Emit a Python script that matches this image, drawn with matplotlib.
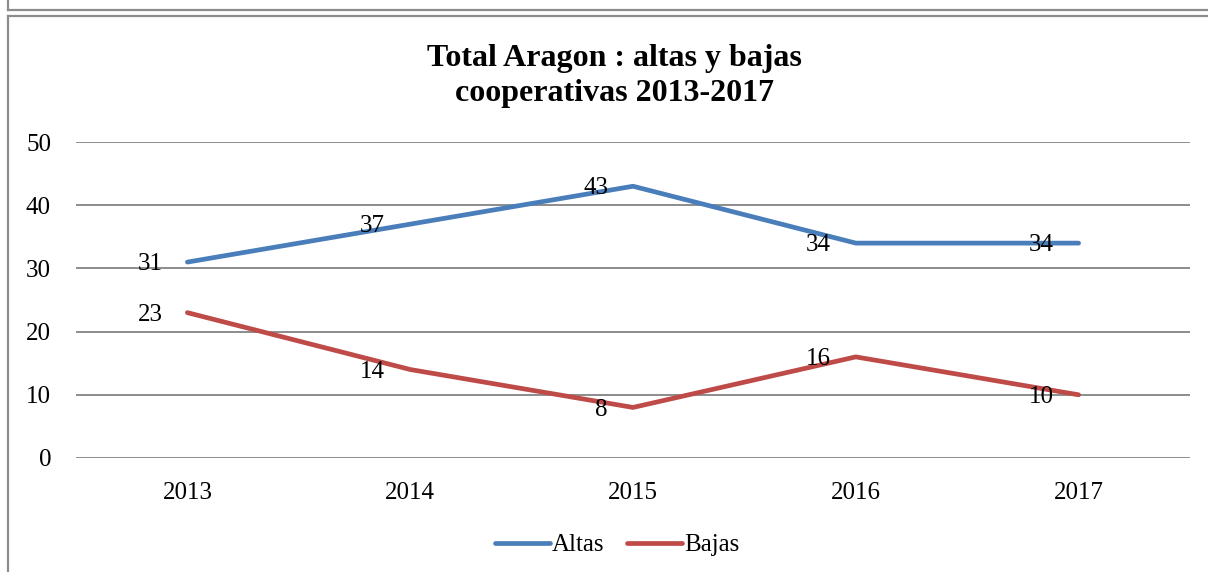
import matplotlib.pyplot as plt
from matplotlib.lines import Line2D

years = ['2013', '2014', '2015', '2016', '2017']
altas = [31, 37, 43, 34, 34]
bajas = [23, 14, 8, 16, 10]

plt.rcParams['font.family'] = ['Liberation Serif', 'DejaVu Serif']

fig = plt.figure(figsize=(12.08, 5.72), dpi=100)
# frame lines of the original document
fig.add_artist(Line2D([8 / 1208, 1], [1 - 10 / 572, 1 - 10 / 572], color='#8c8c8c', lw=1.6))
fig.add_artist(Line2D([8 / 1208, 8 / 1208], [1 - 10 / 572, 1], color='#8c8c8c', lw=1.6))
fig.add_artist(Line2D([8 / 1208, 1], [1 - 16 / 572, 1 - 16 / 572], color='#8c8c8c', lw=1.6))
fig.add_artist(Line2D([8 / 1208, 8 / 1208], [0, 1 - 16 / 572], color='#8c8c8c', lw=1.6))

ax = fig.add_axes([76 / 1208, 1 - 458 / 572, 1114 / 1208, 316 / 572])
x = range(len(years))
ax.plot(x, altas, color='#4a7ebb', lw=3.4, solid_capstyle='round', label='Altas')
ax.plot(x, bajas, color='#be4b48', lw=3.4, solid_capstyle='round', label='Bajas')

for xs, ys in ((x, altas), (x, bajas)):
    for xi, yi in zip(xs, ys):
        ax.annotate(str(yi), (xi, yi), xytext=(-18, -1.5), textcoords='offset points',
                    ha='right', va='center', fontsize=18)

ax.set_xlim(-0.5, 4.5)
ax.set_ylim(0, 50)
ax.set_yticks(range(0, 51, 10))
ax.set_xticks(list(x))
ax.set_xticklabels(years)
ax.tick_params(length=0, labelsize=18)
ax.tick_params(axis='x', pad=17)
ax.tick_params(axis='y', pad=18)
ax.grid(axis='y', color='#8c8c8c', lw=1.4)
ax.set_axisbelow(True)
for s in ax.spines.values():
    s.set_visible(False)

fig.text(0.509, 1 - 76 / 572, 'Total Aragon : altas y bajas\ncooperativas 2013-2017',
         ha='center', va='center', fontsize=23, fontweight='bold', linespacing=1.3)

fig.legend(loc='center', bbox_to_anchor=(0.511, 1 - 545 / 572), ncol=2, frameon=False,
           fontsize=18, handlelength=2.2, handletextpad=0.1, columnspacing=0.9)

fig.savefig('out.png', dpi=100)
